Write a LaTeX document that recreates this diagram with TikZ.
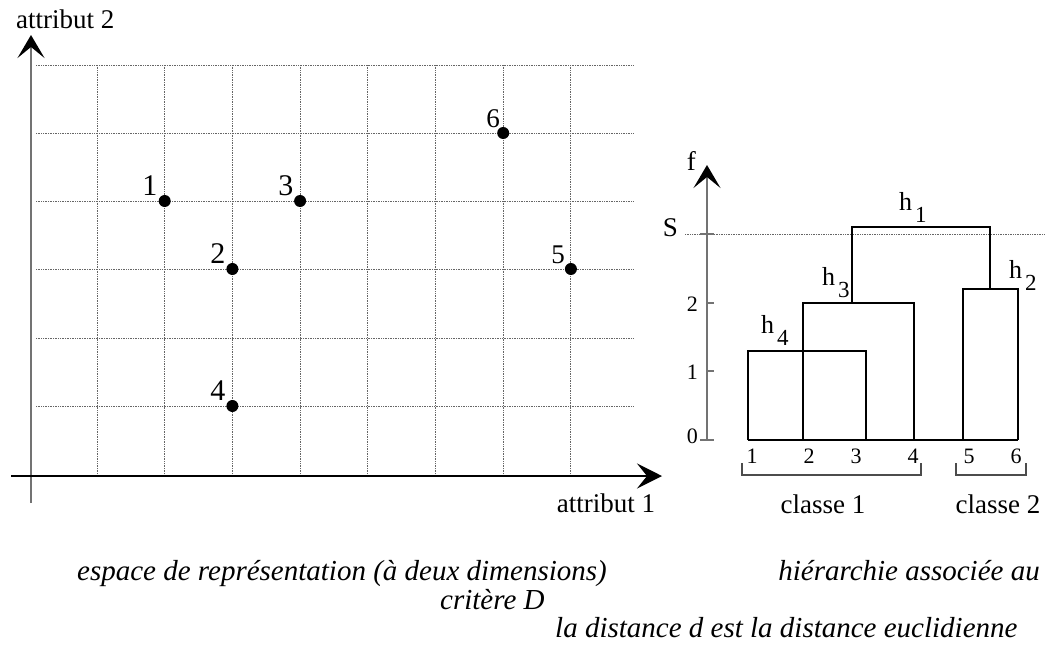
\documentclass[tikz,border=0pt]{standalone}
\usepackage{fontspec}
\setmainfont{Liberation Serif}
\usetikzlibrary{arrows.meta}
\newcommand{\fs}[1]{\fontsize{#1}{#1}\selectfont}
\newcommand{\hsub}[1]{h\hspace{3pt}\raisebox{-12pt}{\fs{23}#1}}
\begin{document}
\begin{tikzpicture}[x=1pt,y=-1pt,
  gridline/.style={black!60, line width=0.9pt, dash pattern=on 1pt off 0.7pt},
  axisv/.style={black!55, line width=2pt},
  axish/.style={black, line width=1.8pt},
  vtip/.style={-{Stealth[length=23pt,width=27pt,inset=11pt,color=black]}},
  htip/.style={-{Stealth[length=25pt,width=25pt,inset=10pt,color=black]}},
  ptdot/.style={circle, fill=black, inner sep=0pt, minimum size=12pt},
  ptlab/.style={anchor=base east, inner sep=0pt, font=\fs{30}},
  ptlabs/.style={anchor=base east, inner sep=0pt, font=\fs{27}},
  lab/.style={inner sep=0pt, font=\fs{27}},
  ticklab/.style={inner sep=0pt, anchor=base east, font=\fs{22}},
  leaflab/.style={inner sep=0pt, anchor=base, font=\fs{22}},
  treeline/.style={black, line width=1.3pt},
  hlab/.style={inner sep=0pt, anchor=base west, font=\fs{26}},
  captxt/.style={inner sep=0pt, anchor=base, font=\fs{29}\itshape}]
\useasboundingbox (0,0) rectangle (1045,648);

% ---------- left: representation space ----------
\foreach \gx in {97,164.7,232.4,300.1,367.8,435.5,503.2,570.9}
  \draw[gridline] (\gx,65) -- (\gx,476);
\foreach \gy in {65,133,201,269,338,406}
  \draw[gridline] (36,\gy) -- (633,\gy);

\coordinate (ya0) at (31,503);
\coordinate (ya1) at (31,35);
\coordinate (xa0) at (11,476);
\coordinate (xa1) at (662,476);
\draw[axisv, vtip] (ya0) -- (ya1);
\draw[axish, htip] (xa0) -- (xa1);

\node[lab, anchor=base west] (a2) at (16,28) {attribut 2};
\node[lab, anchor=base] (a1) at (606,512) {attribut 1};

\node[ptdot] (p1) at (164.7,201) {};
\node[ptdot] (p2) at (232.4,269) {};
\node[ptdot] (p3) at (300.1,201) {};
\node[ptdot] (p4) at (232.4,406) {};
\node[ptdot] (p5) at (570.9,269) {};
\node[ptdot] (p6) at (503.2,133) {};
\node[ptlab] (l1) at (157.5,195) {1};
\node[ptlab] (l2) at (225.5,263) {2};
\node[ptlab] (l3) at (293.5,195) {3};
\node[ptlab] (l4) at (225.5,400) {4};
\node[ptlabs] (l5) at (565,263) {5};
\node[ptlabs] (l6) at (500,127) {6};

% ---------- right: dendrogram ----------
\coordinate (f0) at (707,440);
\coordinate (f1) at (707,165);
\draw[gridline] (685,234) -- (1045,234);
\draw[axisv, vtip] (f0) -- (f1);
\draw[black!55, line width=1.3pt] (700,440) -- (714,440);
\draw[black!55, line width=1.3pt] (707,371) -- (714,371);
\draw[black!55, line width=1.3pt] (707,303) -- (714,303);
\draw[black!55, line width=1.6pt] (700,234) -- (714,234);
\node[ticklab] (t0) at (698,443) {0};
\node[ticklab] (t1) at (698,379) {1};
\node[ticklab] (t2) at (698,311) {2};
\node[inner sep=0pt, anchor=base east, font=\fs{27}] (tS) at (678,236) {S};
\node[inner sep=0pt, anchor=base east, font=\fs{27}] (tf) at (696,170) {f};

\coordinate (b1) at (748,440);
\coordinate (b2) at (803,440);
\coordinate (b3) at (866,440);
\coordinate (b4) at (914,440);
\coordinate (b5) at (963,440);
\coordinate (b6) at (1018,440);
\draw[treeline] (b1) -- (b6);
\draw[treeline] (b1) -- (748,351) -- (866,351) -- (b3);
\draw[treeline] (b2) -- (803,303) -- (914,303) -- (b4);
\draw[treeline] (b5) -- (963,289) -- (1018,289) -- (b6);
\draw[treeline] (852,303) -- (852,227) -- (990,227) -- (990,289);

\node[hlab] (h1) at (899,210) {\hsub{1}};
\node[hlab] (h2) at (1009,278) {\hsub{2}};
\node[hlab] (h3) at (822,285) {\hsub{3}};
\node[hlab] (h4) at (761,333) {\hsub{4}};

\node[leaflab] (n1) at (752,463) {1};
\node[leaflab] (n2) at (809,463) {2};
\node[leaflab] (n3) at (856,463) {3};
\node[leaflab] (n4) at (913,463) {4};
\node[leaflab] (n5) at (969,463) {5};
\node[leaflab] (n6) at (1016,463) {6};

\draw[black!70, line width=1.2pt] (742,463) -- (742,475) -- (921,475) -- (921,463);
\draw[black!70, line width=1.2pt] (956,463) -- (956,475) -- (1026,475) -- (1026,463);
\node[lab, anchor=base] (c1) at (823,513) {classe 1};
\node[lab, anchor=base] (c2) at (998,513) {classe 2};

% ---------- captions ----------
\node[captxt] (k1) at (342,580) {espace de représentation (à deux dimensions)};
\node[captxt, anchor=base east] (k2) at (1040,580) {hiérarchie associée au};
\node[captxt, anchor=base west] (k3) at (440,609) {critère D};
\node[captxt, anchor=base west] (k4) at (555,637) {la distance d est la distance euclidienne};
\end{tikzpicture}
\end{document}
